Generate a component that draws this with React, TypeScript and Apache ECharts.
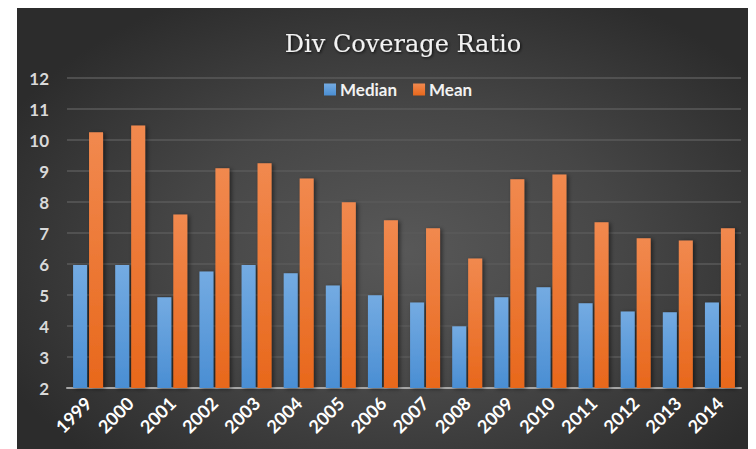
import React, { useEffect, useRef } from "react";
import * as echarts from "echarts";

const categories = ["1999","2000","2001","2002","2003","2004","2005","2006","2007","2008","2009","2010","2011","2012","2013","2014"];
const medianValues = [5.97, 5.97, 4.93, 5.76, 5.97, 5.7, 5.31, 4.99, 4.76, 3.99, 4.93, 5.25, 4.73, 4.47, 4.44, 4.76];
const meanValues = [10.25, 10.47, 7.6, 9.09, 9.25, 8.76, 7.99, 7.41, 7.15, 6.18, 8.73, 8.89, 7.35, 6.83, 6.76, 7.15];
const titleText = "Div Coverage Ratio";
const seriesNames = ["Median", "Mean"];

export default function App() {
  const ref = useRef<HTMLDivElement>(null);
  useEffect(() => {
    if (!ref.current) return;
    const chart = echarts.init(ref.current, null, { renderer: "svg" });
    const grad = (top: string, bottom: string) =>
      new echarts.graphic.LinearGradient(0, 0, 0, 1, [
        { offset: 0, color: top },
        { offset: 1, color: bottom },
      ]);
    chart.setOption({
      animation: false,
      backgroundColor: "transparent",
      title: {
        text: titleText,
        left: 381,
        top: 19,
        textAlign: "center",
        textStyle: {
          fontFamily: "DejaVu Serif",
          fontWeight: "normal",
          fontSize: 24,
          color: "#f2f2f2",
          textShadowColor: "rgba(0,0,0,0.8)",
          textShadowBlur: 3,
          textShadowOffsetX: 1,
          textShadowOffsetY: 1,
        },
      },
      legend: {
        data: seriesNames,
        left: 302,
        top: 68,
        itemWidth: 12,
        itemHeight: 12,
        itemGap: 16,
        icon: "rect",
        textStyle: {
          color: "#f2f2f2",
          fontFamily: "Lato",
          fontWeight: "bold",
          fontSize: 17,
          padding: [0, 0, 0, -1],
        },
      },
      grid: { left: 50, right: 15, top: 70, bottom: 61 },
      xAxis: {
        type: "category",
        data: categories,
        axisLine: { lineStyle: { color: "#a6a6a6", width: 2 } },
        axisTick: { show: false },
        axisLabel: {
          rotate: 45,
          margin: 12,
          color: "#ffffff",
          fontFamily: "Lato",
          fontWeight: "bold",
          fontSize: 18,
          interval: 0,
        },
      },
      yAxis: {
        type: "value",
        min: 2,
        max: 12,
        interval: 1,
        axisLine: { show: false },
        axisTick: { show: false },
        splitLine: { lineStyle: { color: "#5a5a5a", width: 1.5 } },
        axisLabel: {
          color: "#d9d9d9",
          fontFamily: "Lato",
          fontWeight: "bold",
          fontSize: 17,
          margin: 18,
        },
      },
      series: [
        {
          name: seriesNames[0],
          type: "bar",
          data: medianValues,
          barWidth: 14,
          barGap: "14%",
          itemStyle: {
            color: grad("#74abe2", "#4a8ed3"),
            shadowColor: "rgba(0,0,0,0.5)",
            shadowBlur: 4,
            shadowOffsetX: 2,
            shadowOffsetY: 1,
          },
        },
        {
          name: seriesNames[1],
          type: "bar",
          data: meanValues,
          barWidth: 14,
          itemStyle: {
            color: grad("#f1894f", "#e8681c"),
            shadowColor: "rgba(0,0,0,0.5)",
            shadowBlur: 4,
            shadowOffsetX: 2,
            shadowOffsetY: 1,
          },
        },
      ],
    });
    return () => chart.dispose();
  }, []);
  return (
    <div
      ref={ref}
      style={{
        width: 739,
        height: 441,
        marginLeft: 9,
        background:
          "radial-gradient(ellipse 60% 65% at 52% 55%, #585858 0%, #464646 50%, #2c2c2c 100%)",
      }}
    />
  );
}
